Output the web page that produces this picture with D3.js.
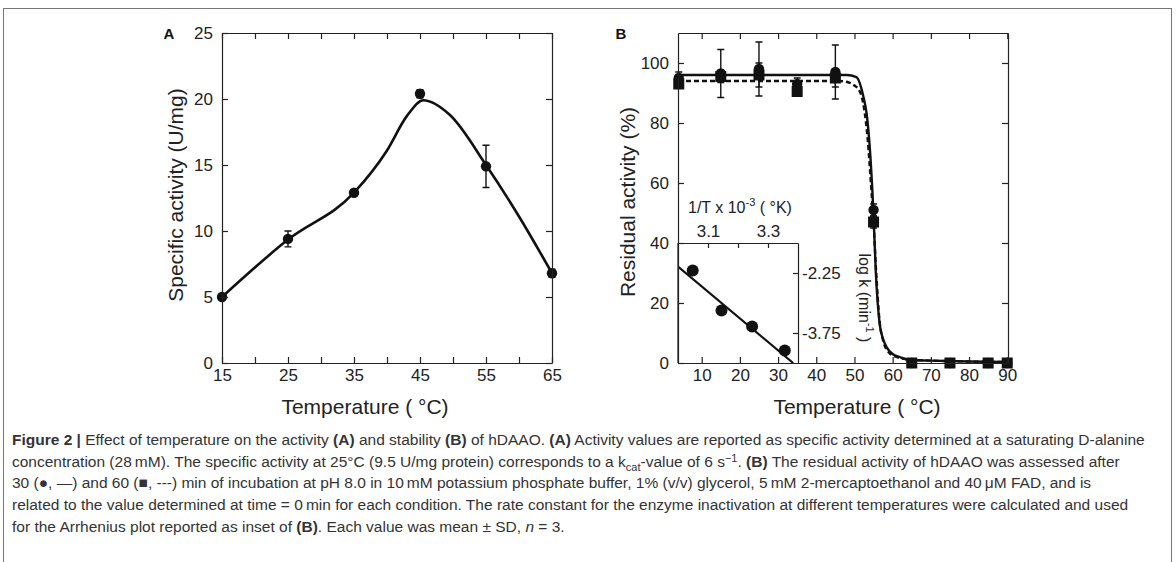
<!DOCTYPE html>
<html lang="en">
<head>
<meta charset="UTF-8">
<script src="https://d3js.org/d3.v7.min.js"></script>
<title>Figure 2 - hDAAO temperature</title>
<style>
  body { margin: 0; background: #fff; }
  svg { display: block; font-family: "Liberation Sans", Arial, sans-serif; }
  .axis text { font-size: 17px; fill: #222; font-family: "Liberation Sans", Arial, sans-serif; }
  .axis path, .axis line { stroke: #222; stroke-width: 1.2; }
  .title { font-size: 21px; fill: #222; }
  .caption { font-size: 15.5px; fill: #333; }
</style>
</head>
<body>
<div id="chart"></div>
<script>
// panel A: specific activity vs temperature
var tempA = [15, 25, 35, 45, 55, 65];
var activityA = [5.0, 9.4, 12.9, 20.4, 14.9, 6.8];
var sdA = [0.1, 0.6, 0.2, 0.3, 1.6, 0.3];
// smooth curve
var fitTempA = [15, 25, 35, 40, 43, 45.5, 49.5, 55, 60, 65];
var fitActA = [5.0, 9.35, 12.9, 16.1, 18.7, 19.9, 18.8, 15.0, 11.1, 6.8];
var xTicksA = [15, 20, 25, 30, 35, 40, 45, 50, 55, 60, 65];
var xLabelsA = [15, 25, 35, 45, 55, 65];
var yTicksA = [0, 5, 10, 15, 20, 25];

// panel B: residual activity after 30 min (circles) and 60 min (squares)
var tempB = [4, 15, 25, 35, 45, 55, 65, 75, 85, 90];
var res30 = [95, 96.5, 98, 93, 97, 51, 0, 0, 0, 0];
var sd30 = [2, 8, 9, 2, 9, 2, 0, 0, 0, 0];
var res60 = [93, 95.5, 96, 90.5, 95, 47, 0, 0, 0, 0];
var sd60 = [1, 2, 4, 1, 3, 2, 0, 0, 0, 0];
var fitTemp30 = [3.8, 48, 50.5, 52.3, 53.2, 54, 54.9, 55.6, 56.6, 57.5, 58.4, 60, 61.8, 64.4, 70, 80, 90.2];
var fitRes30 = [96, 96, 95.3, 89, 83, 72, 52, 30, 13, 8, 5.3, 3, 2, 1, 0.8, 0.5, 0.3];
var fitTemp60 = [3.8, 46, 48.5, 50, 51.4, 52.5, 53.5, 54.3, 55, 55.7, 56.5, 57.5, 59, 61, 64, 70, 80, 90.2];
var fitRes60 = [94, 94, 93.5, 92.5, 90.5, 85, 74, 60, 47, 30, 15, 7.5, 3.5, 2, 1.2, 0.8, 0.5, 0.3];
var xTicksB = [10, 20, 30, 40, 50, 60, 70, 80, 90];
var yTicksB = [0, 20, 40, 60, 80, 100];

// inset: Arrhenius plot
var invT = [3.049, 3.145, 3.247, 3.356];
var logK = [-2.19, -3.19, -3.59, -4.19];
var lineInvT = [3.0, 3.384];
var lineLogK = [-2.09, -4.5];
var insetXTicks = [3.1, 3.2, 3.3];
var insetXLabels = [3.1, 3.3];
var insetYTicks = [-2.25, -3.75];

var W = 1176, H = 562;
var svg = d3.select("#chart").append("svg").attr("width", W).attr("height", H);

// figure frame
svg.append("rect").attr("x", 3.5).attr("y", 8.5).attr("width", 1168).attr("height", 570)
  .attr("fill", "none").attr("stroke", "#777").attr("stroke-width", 1);

var plotTop = 33, plotBottom = 363, tickLen = 6;

function frameAxes(g, x, y, xt, xfmt, yt, yfmt) {
  var r = x.range(), l = r[0], rr = r[1];
  g.append("g").attr("class", "axis").attr("transform", "translate(0," + plotBottom + ")")
    .call(d3.axisBottom(x).tickValues(xt).tickFormat(xfmt).tickSizeInner(-tickLen).tickSizeOuter(0).tickPadding(6));
  g.append("g").attr("class", "axis").attr("transform", "translate(0," + plotTop + ")")
    .call(d3.axisTop(x).tickValues(xt).tickFormat("").tickSizeInner(-tickLen).tickSizeOuter(0));
  g.append("g").attr("class", "axis").attr("transform", "translate(" + l + ",0)")
    .call(d3.axisLeft(y).tickValues(yt).tickFormat(yfmt).tickSizeInner(-tickLen).tickSizeOuter(0).tickPadding(9));
  g.append("g").attr("class", "axis").attr("transform", "translate(" + rr + ",0)")
    .call(d3.axisRight(y).tickValues(yt).tickFormat("").tickSizeInner(-tickLen).tickSizeOuter(0));
}

// ---------- panel A ----------
var xA = d3.scaleLinear().domain([15, 65]).range([222, 552]);
var yA = d3.scaleLinear().domain([0, 25]).range([plotBottom, plotTop]);
var gA = svg.append("g");

gA.append("path")
  .datum(fitTempA.map(function(t, i) { return [t, fitActA[i]]; }))
  .attr("fill", "none").attr("stroke", "#111").attr("stroke-width", 2.6)
  .attr("d", d3.line().x(function(d) { return xA(d[0]); }).y(function(d) { return yA(d[1]); }).curve(d3.curveMonotoneX));

tempA.forEach(function(t, i) {
  var cx = xA(t), lo = yA(activityA[i] - sdA[i]), hi = yA(activityA[i] + sdA[i]);
  gA.append("path").attr("d", "M" + cx + "," + lo + "V" + hi + "M" + (cx - 3.5) + "," + lo + "h7M" + (cx - 3.5) + "," + hi + "h7")
    .attr("stroke", "#111").attr("stroke-width", 1.4).attr("fill", "none");
});
gA.selectAll("circle").data(tempA).enter().append("circle")
  .attr("cx", function(d) { return xA(d); })
  .attr("cy", function(d, i) { return yA(activityA[i]); })
  .attr("r", 5.2).attr("fill", "#111");

frameAxes(gA, xA, yA, xTicksA,
  function(d) { return xLabelsA.indexOf(d) >= 0 ? d : ""; },
  yTicksA, function(d) { return d; });

gA.append("text").attr("class", "title").attr("text-anchor", "middle")
  .attr("x", 365).attr("y", 414).text("Temperature ( °C)");
gA.append("text").attr("class", "title").attr("text-anchor", "middle")
  .attr("transform", "translate(183,195) rotate(-90)").text("Specific activity (U/mg)");
gA.append("text").attr("x", 169).attr("y", 39).attr("text-anchor", "middle")
  .attr("font-weight", "bold").attr("font-size", "15px").attr("fill", "#111").text("A");

// ---------- panel B ----------
var xB = d3.scaleLinear().domain([3.8, 90.2]).range([678, 1008]);
var yB = d3.scaleLinear().domain([0, 110]).range([plotBottom, plotTop]);
var gB = svg.append("g");

var lineB = d3.line().x(function(d) { return xB(d[0]); }).y(function(d) { return yB(d[1]); }).curve(d3.curveMonotoneX);
gB.append("path")
  .datum(fitTemp60.map(function(t, i) { return [t, fitRes60[i]]; }))
  .attr("fill", "none").attr("stroke", "#111").attr("stroke-width", 2.4).attr("stroke-dasharray", "5,3")
  .attr("d", lineB);
gB.append("path")
  .datum(fitTemp30.map(function(t, i) { return [t, fitRes30[i]]; }))
  .attr("fill", "none").attr("stroke", "#111").attr("stroke-width", 2.4)
  .attr("d", lineB);

function errBar(g, cx, v, s) {
  if (!s) return;
  var lo = yB(v - s), hi = yB(v + s);
  g.append("path").attr("d", "M" + cx + "," + lo + "V" + hi + "M" + (cx - 3.5) + "," + lo + "h7M" + (cx - 3.5) + "," + hi + "h7")
    .attr("stroke", "#111").attr("stroke-width", 1.4).attr("fill", "none");
}
tempB.forEach(function(t, i) {
  errBar(gB, xB(t), res30[i], sd30[i]);
  errBar(gB, xB(t), res60[i], sd60[i]);
});
gB.selectAll("rect.sq").data(tempB).enter().append("rect").attr("class", "sq")
  .attr("x", function(d) { return xB(d) - 5.5; })
  .attr("y", function(d, i) { return yB(res60[i]) - 5.5; })
  .attr("width", 11).attr("height", 11).attr("fill", "#111");
gB.selectAll("circle").data(tempB).enter().append("circle")
  .attr("cx", function(d) { return xB(d); })
  .attr("cy", function(d, i) { return yB(res30[i]); })
  .attr("r", 5.2).attr("fill", "#111");

// inset
var xI = d3.scaleLinear().domain([3.0, 3.4]).range([678, 798]);
var yI = d3.scaleLinear().domain([-4.5, -1.5]).range([plotBottom, 243]);
var gI = gB.append("g");
gI.append("clipPath").attr("id", "insetClip").append("rect")
  .attr("x", 678).attr("y", 243).attr("width", 120).attr("height", plotBottom - 243);
gI.append("path")
  .datum(lineInvT.map(function(t, i) { return [t, lineLogK[i]]; }))
  .attr("clip-path", "url(#insetClip)")
  .attr("fill", "none").attr("stroke", "#111").attr("stroke-width", 2.2)
  .attr("d", d3.line().x(function(d) { return xI(d[0]); }).y(function(d) { return yI(d[1]); }));
gI.selectAll("circle").data(invT).enter().append("circle")
  .attr("cx", function(d) { return xI(d); })
  .attr("cy", function(d, i) { return yI(logK[i]); })
  .attr("r", 6).attr("fill", "#111");
gI.append("g").attr("class", "axis").attr("transform", "translate(0,243)")
  .call(d3.axisTop(xI).tickValues(insetXTicks)
    .tickFormat(function(d) { return insetXLabels.indexOf(d) >= 0 ? d3.format(".1f")(d) : ""; })
    .tickSizeInner(-5).tickSizeOuter(0).tickPadding(6));
gI.append("g").attr("class", "axis").attr("transform", "translate(798,0)")
  .call(d3.axisRight(yI).tickValues(insetYTicks).tickFormat(function(d) { return String(d); })
    .tickSizeInner(-5).tickSizeOuter(0).tickPadding(4));
gI.append("line").attr("x1", 678).attr("x2", 678).attr("y1", 243).attr("y2", plotBottom)
  .attr("stroke", "#222").attr("stroke-width", 1.2);

var tI = gI.append("text").attr("x", 688).attr("y", 213).attr("font-size", "16px").attr("fill", "#222");
tI.append("tspan").text("1/T x 10");
tI.append("tspan").attr("dy", -7).attr("font-size", "11px").text("-3");
tI.append("tspan").attr("dy", 7).text(" ( °K)");

var tK = gI.append("text").attr("transform", "translate(859,298) rotate(90)")
  .attr("text-anchor", "middle").attr("font-size", "16px").attr("fill", "#222");
tK.append("tspan").text("log k (min");
tK.append("tspan").attr("dy", -7).attr("font-size", "11px").text("-1");
tK.append("tspan").attr("dy", 7).text(" )");

frameAxes(gB, xB, yB, xTicksB, function(d) { return d; }, yTicksB, function(d) { return d; });

gB.append("text").attr("class", "title").attr("text-anchor", "middle")
  .attr("x", 857).attr("y", 414).text("Temperature ( °C)");
gB.append("text").attr("class", "title").attr("text-anchor", "middle")
  .attr("transform", "translate(635,202) rotate(-90)").text("Residual activity (%)");
gB.append("text").attr("x", 621).attr("y", 39).attr("text-anchor", "middle")
  .attr("font-weight", "bold").attr("font-size", "15px").attr("fill", "#111").text("B");

// ---------- caption ----------
var capLines = [
  [{t: "Figure 2 |", b: 1}, {t: " Effect of temperature on the activity "}, {t: "(A)", b: 1}, {t: " and stability "}, {t: "(B)", b: 1},
   {t: " of hDAAO. "}, {t: "(A)", b: 1}, {t: " Activity values are reported as specific activity determined at a saturating D-alanine"}],
  [{t: "concentration (28\u2009mM). The specific activity at 25\u00b0C (9.5 U/mg protein) corresponds to a k"},
   {t: "cat", sub: 1}, {t: "-value of 6 s"}, {t: "\u22121", sup: 1}, {t: ". "}, {t: "(B)", b: 1},
   {t: " The residual activity of hDAAO was assessed after"}],
  [{t: "30 (\u25cf, \u2014) and 60 (\u25a0, ---) min of incubation at pH 8.0 in 10\u2009mM potassium phosphate buffer, 1% (v/v) glycerol, 5\u2009mM 2-mercaptoethanol and 40\u2009\u03bcM FAD, and is"}],
  [{t: "related to the value determined at time = 0\u2009min for each condition. The rate constant for the enzyme inactivation at different temperatures were calculated and used"}],
  [{t: "for the Arrhenius plot reported as inset of "}, {t: "(B)", b: 1}, {t: ". Each value was mean \u00b1 SD, "}, {t: "n", i: 1}, {t: " = 3."}]
];
var capY = [445, 467, 488, 510, 532];
capLines.forEach(function(segs, li) {
  var t = svg.append("text").attr("class", "caption").attr("x", 12).attr("y", capY[li]);
  var shift = 0;
  segs.forEach(function(s) {
    var ts = t.append("tspan").text(s.t);
    var want = s.sub ? 4 : (s.sup ? -5 : 0);
    if (want !== shift) { ts.attr("dy", want - shift); shift = want; }
    if (s.sub || s.sup) ts.attr("font-size", "11px");
    if (s.b) ts.attr("font-weight", "bold");
    if (s.i) ts.attr("font-style", "italic");
  });
});
</script>
</body>
</html>
